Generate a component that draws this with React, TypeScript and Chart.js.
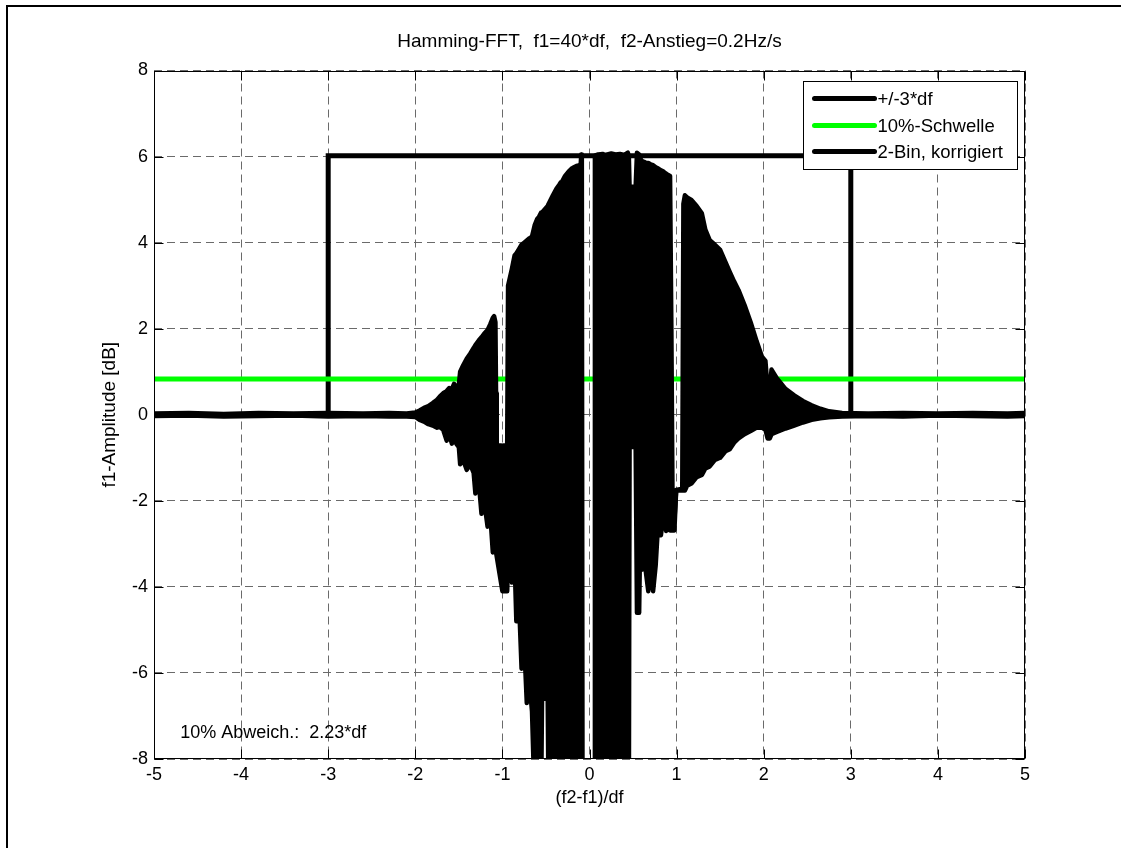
import React, { useEffect, useRef } from 'react';
import { Chart, registerables } from 'chart.js';

Chart.register(...registerables);

// ---------- texts ----------
const titleText = 'Hamming-FFT,  f1=40*df,  f2-Anstieg=0.2Hz/s';
const xAxisLabel = '(f2-f1)/df';
const yAxisLabel = 'f1-Amplitude [dB]';
const annotationText = '10% Abweich.:  2.23*df';
const annotationX = -4.7;
const annotationY = -7.4;
const legendLabels = ['+/-3*df', '10%-Schwelle', '2-Bin, korrigiert'];

// ---------- ticks ----------
const xTickValues = [-5, -4, -3, -2, -1, 0, 1, 2, 3, 4, 5];
const yTickValues = [-8, -6, -4, -2, 0, 2, 4, 6, 8];

// ---------- +/-3*df rectangle ----------
const rectX = [-3, -3, 3, 3];
const rectY = [0, 6.02, 6.02, 0];

// ---------- 10% threshold ----------
const thresholdX = [-5, 5];
const thresholdY = [0.83, 0.83];

// ---------- 2-Bin corrected signal: upper / lower envelope of the oscillation ----------
const sigX = [
  -5.0, -4.6, -4.2, -3.8, -3.4, -3.0, -2.6, -2.3, -2.1, -2.0,
  -1.95, -1.9, -1.85, -1.8, -1.75, -1.72, -1.68, -1.64, -1.61, -1.58,
  -1.555, -1.53, -1.5, -1.485, -1.45, -1.41, -1.37, -1.33, -1.31, -1.27,
  -1.24, -1.21, -1.17, -1.14, -1.11, -1.095, -1.08, -1.073, -1.065, -1.0,
  -0.945, -0.935, -0.92, -0.89, -0.86, -0.84, -0.81, -0.78, -0.75, -0.72,
  -0.69, -0.66, -0.63, -0.6, -0.58, -0.555, -0.545, -0.48, -0.47, -0.42,
  -0.38, -0.345, -0.33, -0.315, -0.28, -0.24, -0.205, -0.198, -0.19, -0.15,
  -0.11, -0.1, -0.095, -0.088, -0.08, 0.055, 0.062, 0.1, 0.15, 0.19,
  0.197, 0.205, 0.25, 0.3, 0.35, 0.4, 0.44, 0.452, 0.46, 0.53,
  0.545, 0.57, 0.585, 0.6, 0.625, 0.65, 0.675, 0.7, 0.73, 0.76,
  0.79, 0.82, 0.85, 0.88, 0.905, 0.925, 0.94, 0.955, 0.975, 0.995,
  1.065, 1.078, 1.095, 1.12, 1.17, 1.23, 1.29, 1.33, 1.38, 1.44,
  1.5, 1.56, 1.61, 1.66, 1.71, 1.78, 1.85, 1.92, 1.98, 2.02,
  2.045, 2.07, 2.09, 2.15, 2.25, 2.35, 2.45, 2.55, 2.65, 2.75,
  2.9, 3.2, 3.6, 4.0, 4.4, 4.8, 5.0,
];
const sigHi = [
  0.03, 0.04, 0.02, 0.04, 0.03, 0.04, 0.03, 0.04, 0.03, 0.05,
  0.1, 0.16, 0.2, 0.27, 0.35, 0.42, 0.5, 0.55, 0.62, 0.6,
  0.72, 0.65, 0.7, 1.0, 1.15, 1.3, 1.42, 1.55, 1.62, 1.73,
  1.8, 1.88, 1.97, 2.1, 2.25, 2.29, 2.15, 0.5, -0.7, -0.72,
  -0.7, 3.0, 3.13, 3.4, 3.7, 3.75, 3.85, 3.95, 4.0, 4.05,
  4.1, 4.14, 4.4, 4.55, 4.6, 4.7, 4.7, 4.85, 4.9, 5.1,
  5.25, 5.35, 5.4, 5.42, 5.55, 5.65, 5.72, 5.73, 5.74, 5.78,
  5.8, 5.85, 6.05, 6.0, -9, -9, 6.02, 6.05, 6.06, 6.03,
  6.05, 6.05, 6.07, 6.05, 6.06, 6.04, 6.09, 6.0, 5.3, 5.3,
  6.09, 6.05, 5.95, 5.9, 5.88, 5.85, 5.85, 5.82, 5.8, 5.75,
  5.72, 5.68, 5.65, 5.6, 5.57, 5.55, 2.0, -2.45, -2.45, -1.75,
  -1.72, 4.9, 5.1, 5.05, 4.99, 4.85, 4.68, 4.3, 4.06, 3.95,
  3.83, 3.55, 3.32, 3.1, 2.9, 2.55, 2.15, 1.7, 1.35, 1.25,
  0.6, 0.6, 1.05, 0.85, 0.6, 0.45, 0.32, 0.22, 0.14, 0.08,
  0.04, 0.03, 0.04, 0.03, 0.04, 0.03, 0.04,
];
const sigLo = [
  -0.03, -0.02, -0.04, -0.03, -0.02, -0.04, -0.03, -0.04, -0.04, -0.05,
  -0.12, -0.16, -0.22, -0.25, -0.3, -0.28, -0.35, -0.6, -0.45, -0.67,
  -0.5, -0.67, -0.75, -1.15, -1.05, -1.28, -1.15, -1.35, -1.83, -1.6,
  -2.3, -2.0, -2.6, -2.3, -3.2, -2.8, -3.2, -3.2, -3.2, -4.1,
  -4.1, -3.4, -3.5, -3.9, -3.4, -4.8, -4.3, -5.9, -5.3, -6.7,
  -6.2, -6.9, -9, -9, -9, -9, -6.6, -6.6, -9, -9,
  -9, -9, -5.3, -9, -9, -9, -9, -4.6, -9, -9,
  -9, -9, -9, -9, -9, -9, -9, -9, -9, -9,
  -7.2, -9, -9, -9, -9, -9, -9, -9, -0.75, -0.75,
  -4.6, -4.6, -2.4, -3.6, -3.2, -3.7, -4.1, -3.4, -4.1, -3.5,
  -2.45, -2.8, -2.3, -2.7, -2.4, -2.69, -2.69, -2.69, -2.69, -1.76,
  -1.76, -1.76, -1.76, -1.65, -1.6, -1.45, -1.4, -1.25, -1.2, -1.05,
  -1.0, -0.85, -0.8, -0.65, -0.55, -0.45, -0.38, -0.3, -0.3, -0.35,
  -0.55, -0.55, -0.45, -0.4, -0.32, -0.25, -0.18, -0.12, -0.08, -0.06,
  -0.04, -0.03, -0.04, -0.02, -0.03, -0.04, -0.03,
];

const FONT = "'Liberation Sans', Arial, Helvetica, sans-serif";
Chart.defaults.font.family = FONT;

const toPts = (xs: number[], ys: number[]) => xs.map((x, i) => ({ x, y: ys[i] }));

const matlabDecor = {
  id: 'matlabDecor',
  beforeDraw(chart: any) {
    const ctx = chart.ctx;
    ctx.save();
    ctx.fillStyle = '#ffffff';
    ctx.fillRect(0, 0, chart.width, chart.height);
    ctx.restore();
  },
  afterDraw(chart: any) {
    const { ctx, chartArea: a, scales } = chart;
    const xs = scales.x;
    const ys = scales.y;
    ctx.save();
    // figure frame
    ctx.strokeStyle = '#000';
    ctx.lineWidth = 2;
    ctx.beginPath();
    ctx.moveTo(7, chart.height);
    ctx.lineTo(7, 6);
    ctx.lineTo(chart.width, 6);
    ctx.stroke();

    // axes box
    ctx.lineWidth = 1;
    const L = Math.round(a.left) + 0.5;
    const R = Math.round(a.right) - 0.5;
    const T = Math.round(a.top) + 0.5;
    const B = Math.round(a.bottom) - 0.5;
    ctx.strokeRect(L, T, R - L, B - T);
    // inward ticks
    const tl = 9;
    ctx.beginPath();
    xTickValues.forEach((v) => {
      const p = Math.round(xs.getPixelForValue(v)) + 0.5;
      ctx.moveTo(p, B); ctx.lineTo(p, B - tl);
      ctx.moveTo(p, T); ctx.lineTo(p, T + tl);
    });
    yTickValues.forEach((v) => {
      const p = Math.round(ys.getPixelForValue(v)) + 0.5;
      ctx.moveTo(L, p); ctx.lineTo(L + tl, p);
      ctx.moveTo(R, p); ctx.lineTo(R - tl, p);
    });
    ctx.stroke();

    // annotation
    ctx.fillStyle = '#000';
    ctx.font = `18px ${FONT}`;
    ctx.textAlign = 'left';
    ctx.textBaseline = 'middle';
    ctx.fillText(annotationText, xs.getPixelForValue(annotationX), ys.getPixelForValue(annotationY));

    // legend box (inside axes, top right)
    const bw = 214, bh = 88;
    const bx = Math.round(a.right) - 8 - bw + 0.5;
    const by = Math.round(a.top) + 10 + 0.5;
    ctx.fillStyle = '#ffffff';
    ctx.fillRect(bx, by, bw, bh);
    ctx.strokeStyle = '#000';
    ctx.lineWidth = 1;
    ctx.strokeRect(bx, by, bw, bh);
    const rows = [17, 44, 70];
    ctx.font = `18.5px ${FONT}`;
    ctx.textBaseline = 'middle';
    legendLabels.forEach((lbl, i) => {
      const ds = chart.data.datasets.find((d: any) => d.label === lbl);
      const y = by + rows[i];
      ctx.strokeStyle = ds ? ds.borderColor : '#000';
      ctx.lineWidth = 5;
      ctx.lineCap = 'round';
      ctx.beginPath();
      ctx.moveTo(bx + 11, y);
      ctx.lineTo(bx + 71, y);
      ctx.stroke();
      ctx.fillStyle = '#000';
      ctx.fillText(lbl, bx + 74, y + 1);
    });
    ctx.restore();
  },
};

export default function App() {
  const ref = useRef<HTMLCanvasElement>(null);
  useEffect(() => {
    const canvas = ref.current;
    if (!canvas) return;
    const common = {
      pointRadius: 0,
      pointHoverRadius: 0,
      tension: 0,
      clip: 0,
      borderJoinStyle: 'round',
      borderCapStyle: 'round',
    };
    const chart = new Chart(canvas, {
      type: 'line',
      data: {
        datasets: [
          {
            ...common,
            label: legendLabels[2],
            data: toPts(sigX, sigHi),
            borderColor: '#000000',
            backgroundColor: '#000000',
            borderWidth: 4.5,
            fill: '+1',
            order: 0,
          },
          {
            ...common,
            label: '2-Bin lower',
            data: toPts(sigX, sigLo),
            borderColor: '#000000',
            backgroundColor: '#000000',
            borderWidth: 4.5,
            fill: false,
            order: 0,
          },
          {
            ...common,
            label: legendLabels[1],
            data: toPts(thresholdX, thresholdY),
            borderColor: '#00ff00',
            backgroundColor: '#00ff00',
            borderWidth: 5,
            fill: false,
            borderCapStyle: 'butt',
            order: 1,
          },
          {
            ...common,
            label: legendLabels[0],
            data: toPts(rectX, rectY),
            borderColor: '#000000',
            backgroundColor: '#000000',
            borderWidth: 5,
            fill: false,
            borderJoinStyle: 'miter',
            borderCapStyle: 'butt',
            order: 2,
          },
        ],
      } as any,
      options: {
        responsive: false,
        animation: false,
        devicePixelRatio: 1,
        events: [],
        layout: { padding: { left: 0, right: 96, top: 0, bottom: 0 }, autoPadding: false },
        plugins: {
          legend: { display: false },
          tooltip: { enabled: false },
          title: {
            display: true,
            text: titleText,
            fullSize: false,
            color: '#000',
            font: { size: 19, weight: 'normal', family: FONT },
            padding: { top: 30, bottom: 17.7 },
          },
        },
        scales: {
          x: {
            type: 'linear',
            min: -5,
            max: 5,
            afterBuildTicks: (s: any) => { s.ticks = xTickValues.map((v) => ({ value: v })); },
            afterFit: (s: any) => { s.height = 89; },
            grid: { color: '#6a6a6a', lineWidth: 1, drawTicks: false },
            border: { display: false, dash: [8, 5] },
            ticks: { color: '#000', font: { size: 18 }, padding: 5, callback: (v: any) => String(v) },
            title: { display: true, text: xAxisLabel, color: '#000', font: { size: 18 }, padding: { top: 0, bottom: 39 } },
          },
          y: {
            type: 'linear',
            min: -8,
            max: 8,
            afterBuildTicks: (s: any) => { s.ticks = yTickValues.map((v) => ({ value: v })); },
            afterFit: (s: any) => { s.width = 154; },
            grid: { color: '#6a6a6a', lineWidth: 1, drawTicks: false },
            border: { display: false, dash: [8, 5] },
            ticks: { color: '#000', font: { size: 18 }, padding: 6, callback: (v: any) => String(v) },
            title: { display: true, text: yAxisLabel, color: '#000', font: { size: 19 }, padding: { top: 98, bottom: 0 } },
          },
        },
      } as any,
      plugins: [matlabDecor],
    });
    return () => chart.destroy();
  }, []);

  return (
    <div style={{ position: 'fixed', left: 0, top: 0, width: 1121, height: 848, background: '#fff' }}>
      <canvas ref={ref} width={1121} height={848} style={{ display: 'block', width: 1121, height: 848 }} />
    </div>
  );
}
